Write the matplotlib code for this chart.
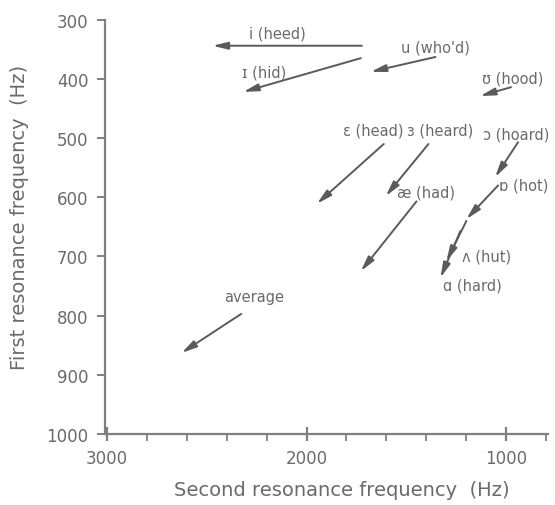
import matplotlib
matplotlib.use("Agg")
import matplotlib.pyplot as plt
from matplotlib.ticker import MultipleLocator

# formant shift per vowel: (F2, F1) at the tail and at the head of each arrow
vowels = ["i (heed)", "ɪ (hid)", "u (who'd)", "ʊ (hood)", "ɛ (head)", "ɜ (heard)",
          "ɔ (hoard)", "ɒ (hot)", "æ (had)", "ʌ (hut)", "ɑ (hard)", "average"]
f2_from = [1723, 1728, 1354, 975, 1613, 1389, 940, 1040, 1449, 1199, 1229, 2327]
f1_from = [344, 365, 363, 414, 510, 510, 507, 580, 607, 640, 657, 797]
f2_to = [2471, 2317, 1678, 1130, 1948, 1603, 1055, 1199, 1728, 1299, 1329, 2626]
f1_to = [344, 422, 388, 429, 611, 598, 566, 637, 725, 708, 736, 863]

# where each vowel name sits (F2, F1)
label_xy = [(2147, 323), (2212, 388), (1354, 346), (965, 399), (1668, 487),
            (1329, 487), (948, 493), (912, 580), (1399, 591), (1100, 700),
            (1169, 749), (2262, 767)]

grey = "#808080"
text_grey = "#6a6a6a"

fig = plt.figure(figsize=(5.55, 5.06), dpi=100)
ax = fig.add_axes([105 / 555, 1 - 435 / 506, (548 - 105) / 555, (435 - 20.7) / 506])

for i, name in enumerate(vowels):
    ax.annotate("", xy=(f2_to[i], f1_to[i]), xytext=(f2_from[i], f1_from[i]),
                arrowprops=dict(arrowstyle="-|>,head_length=0.9,head_width=0.22",
                                color="#5a5a5a", lw=1.4, mutation_scale=10,
                                shrinkA=0, shrinkB=0))
    ax.text(label_xy[i][0], label_xy[i][1], name, ha="center", va="center",
            fontsize=10.5, color=text_grey)

ax.set_xlim(3010, 790)
ax.set_ylim(1000, 300)
ax.xaxis.set_major_locator(MultipleLocator(1000))
ax.xaxis.set_minor_locator(MultipleLocator(200))
ax.yaxis.set_major_locator(MultipleLocator(100))

for side in ("top", "right"):
    ax.spines[side].set_visible(False)
for side in ("left", "bottom"):
    ax.spines[side].set_color(grey)
    ax.spines[side].set_linewidth(1.6)

ax.tick_params(axis="x", which="major", direction="inout", length=10, width=1.6,
               color=grey, labelcolor=text_grey, labelsize=12, pad=6)
ax.tick_params(axis="x", which="minor", direction="out", length=5, width=1.3, color=grey)
ax.tick_params(axis="y", which="major", direction="out", length=6, width=1.4,
               color=grey, labelcolor=text_grey, labelsize=12, pad=6)

ax.set_xlabel("Second resonance frequency  (Hz)", fontsize=14, color=text_grey)
ax.set_ylabel("First resonance frequency  (Hz)", fontsize=14, color=text_grey)
ax.xaxis.set_label_coords(0.535, -0.11)
ax.yaxis.set_label_coords(-0.172, 0.525)

fig.savefig("out.png", dpi=100)
